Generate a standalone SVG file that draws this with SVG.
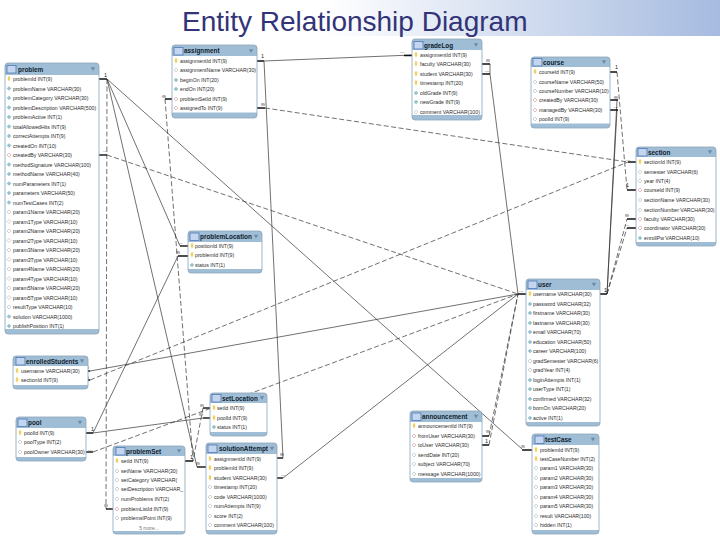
<svg xmlns="http://www.w3.org/2000/svg" width="720" height="540" viewBox="0 0 720 540">
<style>
.t{fill:#9fbed6;stroke:#8ea4b8;stroke-width:.8}
.b{fill:#fff}
.h{font:bold 6.4px "Liberation Sans",Arial,sans-serif;fill:#10202c}
.r{font:5.2px "Liberation Sans",Arial,sans-serif;fill:#2c2c2c}
.m{font:5px "Liberation Sans",Arial,sans-serif;fill:#777}
.c{font:5.5px "Liberation Sans",Arial,sans-serif;fill:#222}
.s{fill:none;stroke:#333;stroke-width:.7}
.d{fill:none;stroke:#333;stroke-width:.7;stroke-dasharray:5 2.5}
.k{fill:none;stroke:#111;stroke-width:1.4}
</style>
<defs>
<linearGradient id="band" x1="0" x2="1" y1="0" y2="0"><stop offset=".45" stop-color="#fff"/><stop offset="1" stop-color="#a6bbe0"/></linearGradient>
<g id="ti"><rect x="-4" y="-3.5" width="9" height="7.5" fill="#c4d6ef" stroke="#4f78b8" stroke-width=".8"/></g>
<polygon id="ar" points="-2.2,-1.8 2.2,-1.8 0,2" fill="#6f8ba3"/>
<polygon id="y" points="-1.2,-2.4 1.2,-2.4 1.2,.6 0,2.4 -1.2,.6" fill="#f0d060"/>
<polygon id="f" points="0,-2 2,0 0,2 -2,0" fill="#8fc4d2" stroke="#7aa6b8" stroke-width=".3"/>
<polygon id="o" points="0,-2 2,0 0,2 -2,0" fill="#fff" stroke="#9aa8b0" stroke-width=".5"/>
<polygon id="x" points="0,-2 2,0 0,2 -2,0" fill="#fff" stroke="#c08080" stroke-width=".5"/>
</defs>
<rect x="0" y="0" width="720" height="36" fill="url(#band)"/>
<text x="182" y="31" font-family="'Liberation Sans',Arial,sans-serif" font-size="28" fill="#333378">Entity Relationship Diagram</text>

<g id="connectors">
<path class="s" d="M264 61L412 55"/><path class="k" d="M257 61H264M404 55.500H412"/>
<path class="s" d="M264 61L283 458"/><path class="k" d="M277 458H283"/>
<path class="d" d="M265 108L628 162"/><path class="k" d="M257 108H265M628 162H636"/>
<path class="d" d="M107 155L518 294"/><path class="k" d="M99 155H107"/>
<path class="s" d="M107 79L522 449"/><path class="k" d="M99 79H107M522 450H532"/>
<path class="s" d="M107 79L197 467"/><path class="k" d="M197 467H206"/>
<path class="s" d="M107 79L180 246"/><path class="k" d="M180 246H188"/>
<path class="d" d="M107 79L106 509"/><path class="k" d="M106 509H113"/>
<path class="d" d="M165 99L193 461"/><path class="k" d="M165 99H172M185 461H193"/>
<path class="d" d="M203 408L193 461"/><path class="k" d="M203 408H210"/>
<path class="s" d="M93 433L178 256"/><path class="k" d="M86 433H93M178 256H188"/>
<path class="s" d="M93 433L203 418"/><path class="k" d="M203 418H210"/>
<path class="d" d="M93 452L518 294"/><path class="k" d="M86 452H93"/>
<path class="s" d="M90 371L518 294"/><path class="k" d="M88 371H90"/>
<path class="d" d="M90 380L628 162"/><path class="k" d="M88 380H90"/>
<path class="s" d="M283 478L518 294"/><path class="k" d="M277 478H283"/>
<path class="s" d="M490 64V74L518 294"/><path class="k" d="M482 64H490M482 74H490"/>
<path class="d" d="M489 436L518 294M489 445L518 294"/><path class="k" d="M482 436H489M482 445H489M518 294H526"/>
<path class="d" d="M617 72L627 190"/><path class="k" d="M610 72H617M627 190H636"/>
<path class="s" d="M607 294L617 100M607 294L617 110"/><path class="k" d="M610 100H618M610 110H618M600 294H607"/>
<path class="d" d="M607 294L627 219M607 294L627 228"/><path class="k" d="M627 219H636M627 228H636"/>
<text class="c" x="261" y="58">1</text><text class="c" x="400" y="53">...</text>
<text class="c" x="261" y="106">∞</text><text class="c" x="104" y="77">1</text>
<text class="c" x="103" y="152">...</text><text class="c" x="162" y="98">∞</text>
<text class="c" x="178" y="244">...</text><text class="c" x="176" y="254">∞</text>
<text class="c" x="486" y="62">∞</text><text class="c" x="485" y="72">...</text>
<text class="c" x="615" y="69">1</text><text class="c" x="614" y="99">∞</text><text class="c" x="614" y="108">...</text>
<text class="c" x="626" y="161">...</text><text class="c" x="626" y="187">1</text>
<text class="c" x="625" y="217">∞</text><text class="c" x="625" y="226">...</text>
<text class="c" x="604" y="292">1</text><text class="c" x="519" y="292">...</text>
<text class="c" x="85" y="369">∞</text><text class="c" x="85" y="379">∞</text>
<text class="c" x="91" y="431">1</text><text class="c" x="88" y="451">...</text>
<text class="c" x="200" y="407">∞</text><text class="c" x="199" y="416">∞</text>
<text class="c" x="190" y="459">1</text><text class="c" x="196" y="465">∞</text>
<text class="c" x="104" y="507">∞</text><text class="c" x="280" y="456">∞</text><text class="c" x="281" y="476">...</text>
<text class="c" x="486" y="433">∞</text><text class="c" x="485" y="443">1</text><text class="c" x="521" y="448">∞</text>
</g>

<g id="problem"><rect class="t" x="5" y="63" width="94" height="271" rx="3"/><rect class="b" x="5.500" y="75" width="93" height="254"/>
<use href="#ti" x="11" y="69"/><text class="h" x="18" y="71.500">problem</text><use href="#ar" x="93" y="69"/>
<use href="#y" x="9" y="79"/><text class="r" x="13" y="81">problemId INT(9)</text>
<use href="#f" x="9" y="88.500"/><text class="r" x="13" y="90.500">problemName VARCHAR(30)</text>
<use href="#f" x="9" y="98"/><text class="r" x="13" y="100">problemCategory VARCHAR(30)</text>
<use href="#f" x="9" y="107.500"/><text class="r" x="13" y="109.500">problemDescription VARCHAR(500)</text>
<use href="#f" x="9" y="117"/><text class="r" x="13" y="119">problemActive INT(1)</text>
<use href="#f" x="9" y="126.500"/><text class="r" x="13" y="128.500">totalAllowedHits INT(9)</text>
<use href="#f" x="9" y="136"/><text class="r" x="13" y="138">correctAttempts INT(9)</text>
<use href="#f" x="9" y="145.500"/><text class="r" x="13" y="147.500">createdOn INT(10)</text>
<use href="#x" x="9" y="155"/><text class="r" x="13" y="157">createdBy VARCHAR(30)</text>
<use href="#f" x="9" y="164.500"/><text class="r" x="13" y="166.500">methodSignature VARCHAR(100)</text>
<use href="#f" x="9" y="174"/><text class="r" x="13" y="176">methodName VARCHAR(40)</text>
<use href="#f" x="9" y="183.500"/><text class="r" x="13" y="185.500">numParameters INT(1)</text>
<use href="#f" x="9" y="193"/><text class="r" x="13" y="195">parameters VARCHAR(50)</text>
<use href="#f" x="9" y="202.500"/><text class="r" x="13" y="204.500">numTestCases INT(2)</text>
<use href="#o" x="9" y="212"/><text class="r" x="13" y="214">param1Name VARCHAR(20)</text>
<use href="#o" x="9" y="221.500"/><text class="r" x="13" y="223.500">param1Type VARCHAR(10)</text>
<use href="#o" x="9" y="231"/><text class="r" x="13" y="233">param2Name VARCHAR(20)</text>
<use href="#o" x="9" y="240.500"/><text class="r" x="13" y="242.500">param2Type VARCHAR(10)</text>
<use href="#o" x="9" y="250"/><text class="r" x="13" y="252">param3Name VARCHAR(20)</text>
<use href="#o" x="9" y="259.500"/><text class="r" x="13" y="261.500">param3Type VARCHAR(10)</text>
<use href="#o" x="9" y="269"/><text class="r" x="13" y="271">param4Name VARCHAR(20)</text>
<use href="#o" x="9" y="278.500"/><text class="r" x="13" y="280.500">param4Type VARCHAR(10)</text>
<use href="#o" x="9" y="288"/><text class="r" x="13" y="290">param5Name VARCHAR(20)</text>
<use href="#o" x="9" y="297.500"/><text class="r" x="13" y="299.500">param5Type VARCHAR(10)</text>
<use href="#o" x="9" y="307"/><text class="r" x="13" y="309">resultType VARCHAR(10)</text>
<use href="#f" x="9" y="316.500"/><text class="r" x="13" y="318.500">solution VARCHAR(1000)</text>
<use href="#f" x="9" y="326"/><text class="r" x="13" y="328">publishPosition INT(1)</text></g>

<g id="assignment"><rect class="t" x="172" y="45" width="85" height="73" rx="3"/><rect class="b" x="172.500" y="56" width="84" height="56.500"/>
<use href="#ti" x="178" y="51"/><text class="h" x="184" y="53">assignment</text><use href="#ar" x="251" y="51"/>
<use href="#y" x="176" y="61"/><text class="r" x="180" y="63">assignmentId INT(9)</text>
<use href="#o" x="176" y="70"/><text class="r" x="180" y="72">assignmentName VARCHAR(30)</text>
<use href="#f" x="176" y="80"/><text class="r" x="180" y="82">beginOn INT(20)</text>
<use href="#f" x="176" y="89"/><text class="r" x="180" y="91">endOn INT(20)</text>
<use href="#x" x="176" y="99"/><text class="r" x="180" y="101">problemSetId INT(9)</text>
<use href="#x" x="176" y="108"/><text class="r" x="180" y="110">assignedTo INT(9)</text></g>

<g id="gradeLog"><rect class="t" x="412" y="39" width="70" height="81" rx="3"/><rect class="b" x="412.500" y="50" width="69" height="65"/>
<use href="#ti" x="418" y="45"/><text class="h" x="424" y="47.500">gradeLog</text><use href="#ar" x="476" y="45"/>
<use href="#y" x="416" y="55"/><text class="r" x="420" y="57">assignmentId INT(9)</text>
<use href="#y" x="416" y="64"/><text class="r" x="420" y="66">faculty VARCHAR(30)</text>
<use href="#y" x="416" y="74"/><text class="r" x="420" y="76">student VARCHAR(30)</text>
<use href="#y" x="416" y="83"/><text class="r" x="420" y="85">timestamp INT(20)</text>
<use href="#f" x="416" y="93"/><text class="r" x="420" y="95">oldGrade INT(9)</text>
<use href="#f" x="416" y="102"/><text class="r" x="420" y="104">newGrade INT(9)</text>
<use href="#o" x="416" y="112"/><text class="r" x="420" y="114">comment VARCHAR(100)</text></g>

<g id="course"><rect class="t" x="531" y="57" width="79" height="71" rx="3"/><rect class="b" x="531.500" y="67" width="78" height="56.500"/>
<use href="#ti" x="537" y="62"/><text class="h" x="543" y="64.500">course</text><use href="#ar" x="604" y="62"/>
<use href="#y" x="535" y="72"/><text class="r" x="539" y="74">courseId INT(9)</text>
<use href="#o" x="535" y="82"/><text class="r" x="539" y="84">courseName VARCHAR(50)</text>
<use href="#o" x="535" y="91"/><text class="r" x="539" y="93">courseNumber VARCHAR(10)</text>
<use href="#x" x="535" y="100"/><text class="r" x="539" y="102">createdBy VARCHAR(30)</text>
<use href="#x" x="535" y="110"/><text class="r" x="539" y="112">managedBy VARCHAR(30)</text>
<use href="#o" x="535" y="119"/><text class="r" x="539" y="121">poolId INT(9)</text></g>

<g id="section"><rect class="t" x="636" y="147" width="80" height="99" rx="3"/><rect class="b" x="636.500" y="157" width="79" height="85"/>
<use href="#ti" x="642" y="152"/><text class="h" x="648" y="154.500">section</text><use href="#ar" x="710" y="152"/>
<use href="#y" x="640" y="162"/><text class="r" x="644" y="164">sectionId INT(9)</text>
<use href="#o" x="640" y="172"/><text class="r" x="644" y="174">semester VARCHAR(6)</text>
<use href="#o" x="640" y="181"/><text class="r" x="644" y="183">year INT(4)</text>
<use href="#x" x="640" y="190"/><text class="r" x="644" y="192">courseId INT(9)</text>
<use href="#o" x="640" y="200"/><text class="r" x="644" y="202">sectionName VARCHAR(30)</text>
<use href="#o" x="640" y="210"/><text class="r" x="644" y="212">sectionNumber VARCHAR(30)</text>
<use href="#x" x="640" y="219"/><text class="r" x="644" y="221">faculty VARCHAR(30)</text>
<use href="#x" x="640" y="228"/><text class="r" x="644" y="230">coordinator VARCHAR(30)</text>
<use href="#f" x="640" y="238"/><text class="r" x="644" y="240">enrollPw VARCHAR(10)</text></g>

<g id="user"><rect class="t" x="526" y="279" width="74" height="147" rx="3"/><rect class="b" x="526.500" y="290" width="73" height="132"/>
<use href="#ti" x="532" y="284.500"/><text class="h" x="538" y="287">user</text><use href="#ar" x="594" y="284.500"/>
<use href="#y" x="530" y="294"/><text class="r" x="533" y="296">username VARCHAR(30)</text>
<use href="#f" x="530" y="304"/><text class="r" x="533" y="306">password VARCHAR(32)</text>
<use href="#f" x="530" y="313"/><text class="r" x="533" y="315">firstname VARCHAR(30)</text>
<use href="#f" x="530" y="323"/><text class="r" x="533" y="325">lastname VARCHAR(30)</text>
<use href="#f" x="530" y="332"/><text class="r" x="533" y="334">email VARCHAR(70)</text>
<use href="#f" x="530" y="342"/><text class="r" x="533" y="344">education VARCHAR(50)</text>
<use href="#f" x="530" y="351"/><text class="r" x="533" y="353">career VARCHAR(100)</text>
<use href="#o" x="530" y="361"/><text class="r" x="533" y="363">gradSemester VARCHAR(6)</text>
<use href="#o" x="530" y="370"/><text class="r" x="533" y="372">gradYear INT(4)</text>
<use href="#f" x="530" y="380"/><text class="r" x="533" y="382">loginAttempts INT(1)</text>
<use href="#f" x="530" y="389"/><text class="r" x="533" y="391">userType INT(1)</text>
<use href="#f" x="530" y="399"/><text class="r" x="533" y="401">confirmed VARCHAR(32)</text>
<use href="#f" x="530" y="408"/><text class="r" x="533" y="410">bornOn VARCHAR(20)</text>
<use href="#f" x="530" y="418"/><text class="r" x="533" y="420">active INT(1)</text></g>

<g id="problemLocation"><rect class="t" x="188" y="231" width="74" height="42" rx="3"/><rect class="b" x="188.500" y="242" width="73" height="27"/>
<use href="#ti" x="194" y="236.500"/><text class="h" x="200" y="239">problemLocation</text><use href="#ar" x="256" y="236.500"/>
<use href="#y" x="192" y="246"/><text class="r" x="195" y="248">positionId INT(9)</text>
<use href="#y" x="192" y="255"/><text class="r" x="195" y="257">problemId INT(9)</text>
<use href="#f" x="192" y="265"/><text class="r" x="195" y="267">status INT(1)</text></g>

<g id="enrolledStudents"><rect class="t" x="13" y="356" width="75" height="33" rx="3"/><rect class="b" x="13.500" y="366" width="74" height="19"/>
<use href="#ti" x="20" y="361"/><text class="h" x="26" y="363.500">enrolledStudents</text><use href="#ar" x="82" y="361"/>
<use href="#y" x="17" y="371"/><text class="r" x="21" y="373">username VARCHAR(30)</text>
<use href="#y" x="17" y="380"/><text class="r" x="21" y="382">sectionId INT(9)</text></g>

<g id="pool"><rect class="t" x="16" y="417" width="70" height="44" rx="3"/><rect class="b" x="16.500" y="428" width="69" height="29"/>
<use href="#ti" x="22" y="422.500"/><text class="h" x="28" y="425">pool</text><use href="#ar" x="80" y="422.500"/>
<use href="#y" x="20" y="433"/><text class="r" x="24" y="435">poolId INT(9)</text>
<use href="#o" x="20" y="442"/><text class="r" x="24" y="444">poolType INT(2)</text>
<use href="#o" x="20" y="452"/><text class="r" x="24" y="454">poolOwner VARCHAR(30)</text></g>

<g id="problemSet"><rect class="t" x="113" y="446" width="72" height="88" rx="3"/><rect class="b" x="113.500" y="456" width="71" height="75"/>
<use href="#ti" x="120" y="451"/><text class="h" x="126" y="453.500">problemSet</text><use href="#ar" x="179" y="451"/>
<use href="#y" x="117" y="461"/><text class="r" x="121" y="463">setId INT(9)</text>
<use href="#o" x="117" y="471"/><text class="r" x="121" y="473">setName VARCHAR(30)</text>
<use href="#o" x="117" y="480"/><text class="r" x="121" y="482">setCategory VARCHAR(</text>
<use href="#o" x="117" y="489"/><text class="r" x="121" y="491">setDescription VARCHAR_</text>
<use href="#o" x="117" y="499"/><text class="r" x="121" y="501">numProblems INT(2)</text>
<use href="#x" x="117" y="509"/><text class="r" x="121" y="511">problemListId INT(9)</text>
<use href="#o" x="117" y="518"/><text class="r" x="121" y="520">problemsIPoint INT(9)</text>
<text class="m" x="149" y="530" text-anchor="middle">5 more...</text></g>

<g id="setLocation"><rect class="t" x="210" y="393" width="57" height="43" rx="3"/><rect class="b" x="210.500" y="403" width="56" height="29"/>
<use href="#ti" x="216" y="398"/><text class="h" x="222" y="400.500">setLocation</text><use href="#ar" x="262" y="398"/>
<use href="#y" x="214" y="408"/><text class="r" x="217" y="410">setId INT(9)</text>
<use href="#y" x="214" y="418"/><text class="r" x="217" y="420">poolId INT(9)</text>
<use href="#f" x="214" y="427"/><text class="r" x="217" y="429">status INT(1)</text></g>

<g id="solutionAttempt"><rect class="t" x="206" y="443" width="71" height="91" rx="3"/><rect class="b" x="206.500" y="454" width="70" height="76"/>
<use href="#ti" x="212" y="448.500"/><text class="h" x="219" y="451">solutionAttempt</text><use href="#ar" x="272" y="448.500"/>
<use href="#y" x="210" y="459"/><text class="r" x="214" y="461">assignmentId INT(9)</text>
<use href="#y" x="210" y="468"/><text class="r" x="214" y="470">problemId INT(9)</text>
<use href="#y" x="210" y="478"/><text class="r" x="214" y="480">student VARCHAR(30)</text>
<use href="#o" x="210" y="487"/><text class="r" x="214" y="489">timestamp INT(20)</text>
<use href="#o" x="210" y="497"/><text class="r" x="214" y="499">code VARCHAR(1000)</text>
<use href="#o" x="210" y="506"/><text class="r" x="214" y="508">numAttempts INT(9)</text>
<use href="#o" x="210" y="516"/><text class="r" x="214" y="518">score INT(2)</text>
<use href="#o" x="210" y="525"/><text class="r" x="214" y="527">comment VARCHAR(100)</text></g>

<g id="announcement"><rect class="t" x="410" y="411" width="72" height="71" rx="3"/><rect class="b" x="410.500" y="422" width="71" height="56"/>
<use href="#ti" x="416" y="416.500"/><text class="h" x="422" y="419">announcement</text><use href="#ar" x="476" y="416.500"/>
<use href="#y" x="414" y="426"/><text class="r" x="418" y="428">announcementId INT(9)</text>
<use href="#x" x="414" y="436"/><text class="r" x="418" y="438">fromUser VARCHAR(30)</text>
<use href="#x" x="414" y="445"/><text class="r" x="418" y="447">toUser VARCHAR(30)</text>
<use href="#o" x="414" y="455"/><text class="r" x="418" y="457">sendDate INT(20)</text>
<use href="#o" x="414" y="464"/><text class="r" x="418" y="466">subject VARCHAR(70)</text>
<use href="#o" x="414" y="474"/><text class="r" x="418" y="476">message VARCHAR(1000)</text></g>

<g id="testCase"><rect class="t" x="532" y="434" width="67" height="100" rx="3"/><rect class="b" x="532.500" y="445" width="66" height="85"/>
<use href="#ti" x="539" y="439.500"/><text class="h" x="545" y="442">testCase</text><use href="#ar" x="593" y="439.500"/>
<use href="#y" x="536" y="450"/><text class="r" x="540" y="452">problemId INT(9)</text>
<use href="#y" x="536" y="459"/><text class="r" x="540" y="461">testCaseNumber INT(2)</text>
<use href="#o" x="536" y="468"/><text class="r" x="540" y="470">param1 VARCHAR(30)</text>
<use href="#o" x="536" y="478"/><text class="r" x="540" y="480">param2 VARCHAR(30)</text>
<use href="#o" x="536" y="487"/><text class="r" x="540" y="489">param3 VARCHAR(30)</text>
<use href="#o" x="536" y="497"/><text class="r" x="540" y="499">param4 VARCHAR(30)</text>
<use href="#o" x="536" y="506"/><text class="r" x="540" y="508">param5 VARCHAR(30)</text>
<use href="#o" x="536" y="516"/><text class="r" x="540" y="518">result VARCHAR(100)</text>
<use href="#o" x="536" y="525"/><text class="r" x="540" y="527">hidden INT(1)</text></g>
</svg>
